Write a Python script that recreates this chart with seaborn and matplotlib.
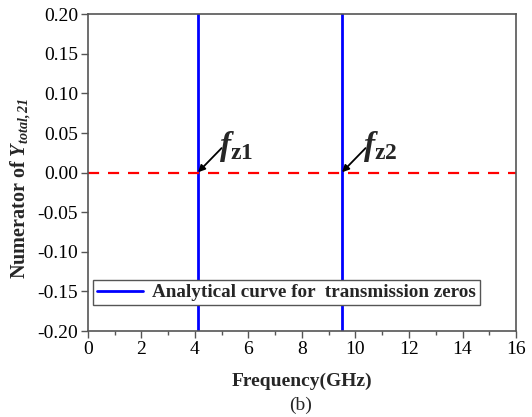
import numpy as np
import pandas as pd
import matplotlib
matplotlib.use("Agg")
import matplotlib.pyplot as plt
import seaborn as sns
from matplotlib.lines import Line2D

# Data
zero_freqs = [4.1, 9.48]          # GHz, transmission zeros
zero_labels = ["z1", "z2"]
ref_x = [0, 16]
ref_y = [0.0, 0.0]
xticks = [0, 2, 4, 6, 8, 10, 12, 14, 16]
yticks = [-0.20, -0.15, -0.10, -0.05, 0.00, 0.05, 0.10, 0.15, 0.20]

sns.set_theme(style="ticks")
plt.rcParams['font.family'] = ['Liberation Serif', 'DejaVu Serif']
plt.rcParams['mathtext.fontset'] = 'custom'
plt.rcParams['mathtext.rm'] = 'Liberation Serif'
plt.rcParams['mathtext.it'] = 'Liberation Serif:italic'
plt.rcParams['mathtext.bf'] = 'Liberation Serif:bold'
plt.rcParams['mathtext.bfit'] = 'Liberation Serif:bold:italic'

fig = plt.figure(figsize=(5.32, 4.17), dpi=100)
ax = fig.add_axes([0.165, 0.206, 0.805, 0.760])

# vertical analytical curve segments
vx, vy, vu = [], [], []
for i, f in enumerate(zero_freqs):
    vx += [f, f]
    vy += [-0.25, 0.25]
    vu += [i, i]
dfv = pd.DataFrame({"x": vx, "y": vy, "u": vu})
sns.lineplot(data=dfv, x="x", y="y", units="u", estimator=None, sort=False,
             color="#0000ff", lw=2, ax=ax, legend=False)

dfr = pd.DataFrame({"x": ref_x, "y": ref_y})
sns.lineplot(data=dfr, x="x", y="y", color="#ff0000", lw=1.6, ax=ax,
             legend=False, dashes=False, linestyle=(0, (5, 4)))

ax.set_xlim(0, 16)
ax.set_ylim(-0.20, 0.20)
ax.set_xticks(xticks)
ax.set_xticklabels([str(t) for t in xticks])
ax.set_xticks(np.arange(1, 16, 2), minor=True)
ax.set_yticks(yticks)
ax.set_yticklabels([f"{t:.2f}" for t in yticks])
ax.tick_params(axis='both', which='major', direction='out', length=5, width=1,
               color='#555555', labelsize=14, pad=2, labelcolor='black')
ax.tick_params(axis='x', which='minor', direction='out', length=3, width=1, color='#555555')
for s in ax.spines.values():
    s.set_color('#555555')
    s.set_linewidth(1.2)
    s.set_visible(True)

ax.set_xlabel("Frequency(GHz)", fontsize=14, fontweight='bold')
ax.xaxis.set_label_coords(0.5, -0.132)
ax.set_ylabel(r"Numerator of $\mathbfit{Y}_{\mathbfit{total,21}}$", fontsize=14.5,
              fontweight='bold')
ax.yaxis.set_label_coords(-0.129, 0.45)

for f, lab in zip(zero_freqs, zero_labels):
    ax.annotate("", xy=(f + 0.02, 0.0005), xytext=(f + 0.9, 0.031),
                arrowprops=dict(arrowstyle="-|>", color="black", lw=1.3,
                                mutation_scale=10, shrinkA=0, shrinkB=0))
    ax.text(f + 0.8, 0.022, r"$\mathbfit{f}_{\mathbf{" + lab + "}}$",
            fontsize=24, ha='left', va='baseline')

h = Line2D([0], [0], color="#0000ff", lw=2)
leg = ax.legend([h], ["Analytical curve for  transmission zeros"],
                loc='lower left', bbox_to_anchor=(0.012, 0.082), frameon=True,
                fancybox=False, edgecolor='#555555', framealpha=1,
                prop={'weight': 'bold', 'size': 13.8}, handlelength=2.4,
                borderpad=0.2, handletextpad=0.5, borderaxespad=0)
leg.get_frame().set_linewidth(1.0)

fig.text(0.565, 0.029, "(b)", fontsize=14, ha='center', va='center')

fig.savefig("out.png", dpi=100)
